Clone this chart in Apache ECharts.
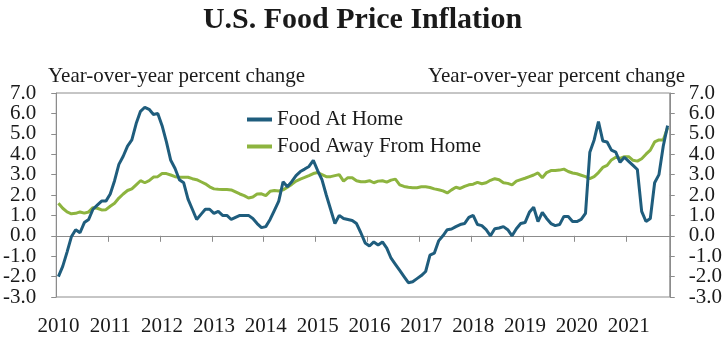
<!DOCTYPE html>
<html>
<head>
<meta charset="utf-8">
<script src="https://cdn.jsdelivr.net/npm/echarts@6/dist/echarts.min.js"></script>
<style>
  html, body { margin: 0; padding: 0; background: #ffffff; }
  #chart { width: 725px; height: 337px; }
</style>
</head>
<body>
<div id="chart"></div>
<script>
// Year labels along the bottom axis (one tick per January)
const yearLabels = ['2010', '2011', '2012', '2013', '2014', '2015', '2016', '2017', '2018', '2019', '2020', '2021'];

// Monthly 12-month percent change, Jan 2010 - Oct 2021
const foodAtHome = [
  -2.0, -1.5, -0.8, -0.05, 0.3, 0.15, 0.65, 0.8, 1.3, 1.5, 1.7, 1.7,
  2.05, 2.7, 3.5, 3.9, 4.4, 4.7, 5.5, 6.1, 6.3, 6.2, 5.95, 6.0,
  5.4, 4.6, 3.7, 3.3, 2.75, 2.6, 1.8, 1.3, 0.8, 1.05, 1.3, 1.3,
  1.1, 1.2, 1.0, 1.0, 0.8, 0.9, 1.0, 1.0, 1.0, 0.85, 0.6, 0.4,
  0.45, 0.8, 1.25, 1.7, 2.65, 2.4, 2.65, 2.95, 3.15, 3.27, 3.4, 3.7,
  3.2, 2.75, 2.0, 1.3, 0.6, 1.0, 0.85, 0.8, 0.75, 0.6, 0.15, -0.35,
  -0.5, -0.3, -0.45, -0.3, -0.6, -1.1, -1.4, -1.7, -2.0, -2.3, -2.25, -2.1,
  -1.95, -1.75, -0.95, -0.85, -0.25, 0.0, 0.3, 0.33, 0.45, 0.55, 0.6, 0.9,
  1.0, 0.55, 0.5, 0.3, 0.0, 0.35, 0.38, 0.45, 0.3, 0.0, 0.35, 0.6,
  0.65, 1.15, 1.4, 0.7, 1.15, 0.85, 0.6, 0.5, 0.55, 0.95, 0.95, 0.7,
  0.7, 0.8, 1.1, 4.1, 4.7, 5.6, 4.65, 4.6, 4.2, 4.1, 3.6, 3.85,
  3.65, 3.45, 3.25, 1.2, 0.7, 0.85, 2.6, 3.0, 4.4, 5.4
];

const foodAwayFromHome = [
  1.6, 1.35, 1.17, 1.08, 1.1, 1.17, 1.11, 1.17, 1.38, 1.35, 1.27, 1.28,
  1.45, 1.6, 1.85, 2.05, 2.22, 2.3, 2.5, 2.7, 2.6, 2.7, 2.88, 2.9,
  3.05, 3.05, 2.98, 2.9, 2.87, 2.87, 2.87, 2.8, 2.75, 2.65, 2.55, 2.4,
  2.3, 2.28, 2.27, 2.27, 2.25, 2.15, 2.05, 1.97, 1.85, 1.9, 2.05, 2.06,
  1.97, 2.18, 2.22, 2.2, 2.25, 2.38, 2.52, 2.68, 2.78, 2.86, 2.95, 3.05,
  3.1, 3.0, 2.9, 2.9, 2.95, 3.0, 2.68, 2.85, 2.85, 2.7, 2.65, 2.65,
  2.7, 2.6, 2.68, 2.7, 2.63, 2.73, 2.78, 2.5, 2.42, 2.38, 2.36, 2.36,
  2.4, 2.4, 2.37, 2.3, 2.26, 2.2, 2.1, 2.25, 2.38, 2.32, 2.42, 2.5,
  2.53, 2.62, 2.55, 2.6, 2.72, 2.8, 2.75, 2.6, 2.57, 2.5, 2.68, 2.75,
  2.82, 2.9, 2.98, 3.08, 2.85, 3.1, 3.2, 3.2, 3.22, 3.27, 3.15, 3.08,
  3.04, 2.97, 2.9, 2.8, 2.9, 3.1, 3.35, 3.45, 3.72, 3.85, 3.8, 3.88,
  3.88, 3.7, 3.66, 3.78, 4.0, 4.2, 4.6, 4.7, 4.7, 5.3
];

const seriesNames = ['Food At Home', 'Food Away From Home'];
const axisTitle = 'Year-over-year percent change';

// Month categories "YYYY-MM", one per data point
const categories = [];
yearLabels.forEach(function (y) {
  for (let m = 1; m <= 12; m++) categories.push(y + '-' + String(m).padStart(2, '0'));
});
categories.length = foodAtHome.length;

const FONT = 'Liberation Serif';
const TEXT = '#1a1a1a';
const FRAME = '#8c8c8c';
const BLUE = '#1f5d7d';
const GREEN = '#8db43f';

const chart = echarts.init(document.getElementById('chart'), null, { renderer: 'canvas' });

// The tick labels are tall relative to the 1-point spacing, so each side is
// split into two axes (even and odd values) to keep every label visible.
function makeYAxis(position, parity, margin, withLine) {
  return {
    type: 'value',
    position: position,
    min: -3,
    max: 7,
    interval: 1,
    splitLine: { show: false },
    axisLine: { show: withLine, lineStyle: { color: FRAME, width: 1 } },
    axisTick: { show: withLine, inside: false, length: 5, lineStyle: { color: FRAME } },
    axisLabel: {
      margin: margin,
      color: TEXT,
      fontFamily: FONT,
      fontSize: 21,
      showMinLabel: true,
      showMaxLabel: true,
      formatter: function (v) {
        return Math.abs(Math.round(v)) % 2 === parity ? v.toFixed(1) : '';
      }
    }
  };
}

chart.setOption({
  animation: false,
  backgroundColor: '#ffffff',
  title: {
    text: 'U.S. Food Price Inflation',
    left: 'center',
    top: 0,
    textStyle: { fontFamily: FONT, fontWeight: 'bold', fontSize: 30, color: TEXT }
  },
  graphic: [
    {
      type: 'text', left: 48, top: 66,
      style: { text: axisTitle, font: '21px "Liberation Serif"', fill: TEXT }
    },
    {
      type: 'text', right: 40, top: 66,
      style: { text: axisTitle, font: '21px "Liberation Serif"', fill: TEXT }
    }
  ],
  legend: {
    orient: 'vertical',
    left: 247,
    top: 109,
    padding: 0,
    itemWidth: 25,
    itemHeight: 4,
    itemGap: 6,
    icon: 'rect',
    textStyle: { fontFamily: FONT, fontSize: 21, color: TEXT },
    data: seriesNames
  },
  grid: {
    left: 53,
    right: 52,
    top: 93,
    bottom: 34,
    show: true,
    borderColor: FRAME,
    borderWidth: 1,
    backgroundColor: 'transparent'
  },
  xAxis: [
    {
      // axis line through zero with downward year ticks
      type: 'category',
      data: categories,
      boundaryGap: true,
      axisLine: { show: true, onZero: true, lineStyle: { color: FRAME, width: 1 } },
      axisTick: { show: true, interval: 11, length: 6, alignWithLabel: false, lineStyle: { color: FRAME } },
      axisLabel: { show: false },
      splitLine: { show: false }
    },
    {
      // year labels along the bottom edge
      type: 'category',
      data: categories,
      position: 'bottom',
      boundaryGap: true,
      axisLine: { show: false, onZero: false },
      axisTick: { show: false },
      splitLine: { show: false },
      axisLabel: {
        interval: 11,
        margin: 19,
        color: TEXT,
        fontFamily: FONT,
        fontSize: 21,
        formatter: function (v) { return v.slice(0, 4); }
      }
    }
  ],
  yAxis: [
    makeYAxis('left', 0, 20, true),
    makeYAxis('left', 1, 20, false),
    makeYAxis('right', 0, 19, true),
    makeYAxis('right', 1, 19, false)
  ],
  series: [
    {
      name: seriesNames[0],
      type: 'line',
      xAxisIndex: 0,
      yAxisIndex: 0,
      data: foodAtHome,
      symbol: 'none',
      color: BLUE,
      lineStyle: { color: BLUE, width: 3 },
      z: 3
    },
    {
      name: seriesNames[1],
      type: 'line',
      xAxisIndex: 0,
      yAxisIndex: 0,
      data: foodAwayFromHome,
      symbol: 'none',
      color: GREEN,
      lineStyle: { color: GREEN, width: 3 },
      z: 2
    }
  ]
});
</script>
</body>
</html>
